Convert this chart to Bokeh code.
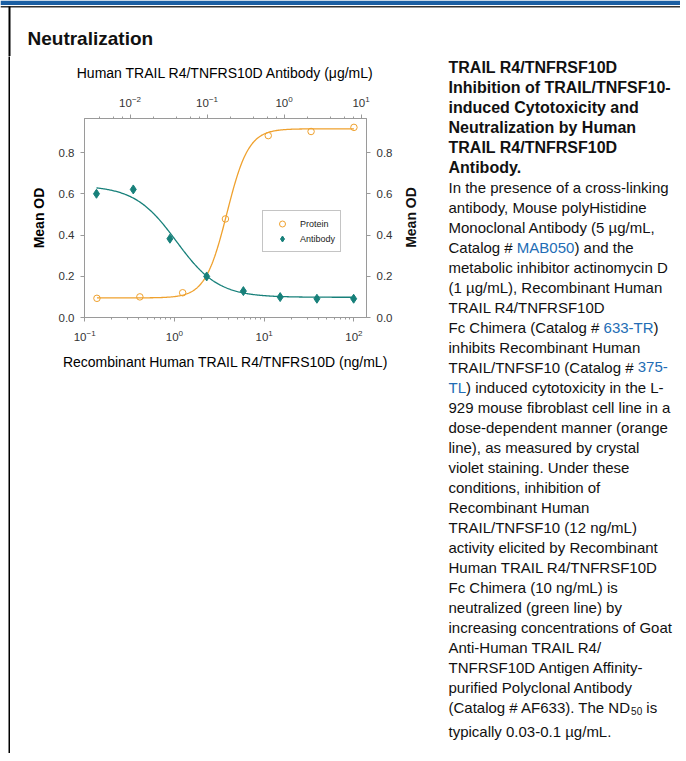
import math
import numpy as np
from bokeh.plotting import figure
from bokeh.models import (Range1d, LogScale, LogAxis, LinearAxis, FixedTicker,
                          PrintfTickFormatter, Legend, LegendItem, ColumnDataSource)
from bokeh.layouts import column, row
from bokeh.embed import file_html
from bokeh.resources import INLINE
from bokeh.core.properties import value

# ---------------- data ----------------
protein_conc = [0.137, 0.412, 1.235, 3.70, 11.1, 33.3, 100.0]                 # ng/mL (bottom axis)
protein_od = [0.093, 0.100, 0.120, 0.478, 0.882, 0.902, 0.922]
antibody_conc = [0.00366, 0.011, 0.0329, 0.0988, 0.296, 0.889, 2.667, 8.0]  # ug/mL (top axis)
antibody_od = [0.600, 0.621, 0.382, 0.199, 0.128, 0.099, 0.091, 0.091]

# four-parameter logistic fit curves (parameters)
protein_fit = {"bottom": 0.095, "top": 0.915, "mid": 3.84, "hill": 3.6}
antibody_fit = {"bottom": 0.098, "top": 0.64, "mid": 0.040, "hill": 1.6}

y_ticks = [0.0, 0.2, 0.4, 0.6, 0.8]
series_labels = ["Protein", "Antibody"]

section_title = "Neutralization"
top_axis_title = "Human TRAIL R4/TNFRS10D Antibody (\u03bcg/mL)"
bottom_axis_title = "Recombinant Human TRAIL R4/TNFRS10D (ng/mL)"
y_axis_title = "Mean OD"

caption_lines = [
    "TRAIL R4/TNFRSF10D",
    "Inhibition of TRAIL/TNFSF10-",
    "induced Cytotoxicity and",
    "Neutralization by Human",
    "TRAIL R4/TNFRSF10D",
    "Antibody.",
    "In the presence of a cross-linking",
    "antibody, Mouse polyHistidine",
    "Monoclonal Antibody (5 \u00b5g/mL,",
    "Catalog # MAB050) and the",
    "metabolic inhibitor actinomycin D",
    "(1 \u00b5g/mL), Recombinant Human",
    "TRAIL R4/TNFRSF10D",
    "Fc Chimera (Catalog # 633-TR)",
    "inhibits Recombinant Human",
    "TRAIL/TNFSF10 (Catalog # 375-",
    "TL) induced cytotoxicity in the L-",
    "929 mouse fibroblast cell line in a",
    "dose-dependent manner (orange",
    "line), as measured by crystal",
    "violet staining. Under these",
    "conditions, inhibition of",
    "Recombinant Human",
    "TRAIL/TNFSF10 (12 ng/mL)",
    "activity elicited by Recombinant",
    "Human TRAIL R4/TNFRSF10D",
    "Fc Chimera (10 ng/mL) is",
    "neutralized (green line) by",
    "increasing concentrations of Goat",
    "Anti-Human TRAIL R4/",
    "TNFRSF10D Antigen Affinity-",
    "purified Polyclonal Antibody",
    "(Catalog # AF633). The ND50 is",
    "typically 0.03-0.1 \u00b5g/mL.",
]
caption_bold_lines = 6
caption_links = {9: "MAB050", 13: "633-TR", 15: "375-", 16: "TL"}
caption_subscript = {32: "50"}

# ---------------- styling ----------------
FONT = "Liberation Sans"
ORANGE = "#EFA12E"
TEAL = "#17807A"
GRAY = "#9a9a9a"
BLUE_BAR = "#1b5fa3"
LINK = "#236db5"
INK = "#111111"

# Arial / Liberation Sans advance widths (1/1000 em) for offsetting coloured runs
ARIAL_W = {" ": 278, "#": 556, "(": 333, ")": 333, "-": 333, ".": 278, "/": 278, ",": 278,
           "A": 667, "B": 667, "C": 722, "D": 722, "E": 667, "F": 611, "G": 778, "H": 722,
           "I": 278, "K": 667, "L": 556, "M": 833, "N": 722, "O": 778, "P": 667, "R": 722,
           "S": 667, "T": 611, "a": 556, "b": 556, "c": 500, "d": 556, "e": 556, "f": 278,
           "g": 556, "h": 556, "i": 222, "k": 500, "l": 222, "m": 833, "n": 556, "o": 556,
           "p": 556, "r": 333, "s": 500, "t": 278, "u": 556, "v": 500, "y": 500}


def text_w(s, size):
    return sum(ARIAL_W.get(ch, 556) for ch in s) * size / 1000.0


def logistic_up(x, f):
    return f["bottom"] + (f["top"] - f["bottom"]) / (1.0 + (f["mid"] / x) ** f["hill"])


def logistic_down(x, f):
    return f["bottom"] + (f["top"] - f["bottom"]) / (1.0 + (x / f["mid"]) ** f["hill"])


def no_align(fig):
    if "frame_align" in fig.properties():
        fig.frame_align = False
    return fig


# ---------------- header ----------------
W = 680
HEAD_H = 56
BODY_H = 697

h = figure(width=W, height=HEAD_H, x_range=Range1d(0, W), y_range=Range1d(HEAD_H, 0),
           x_axis_type=None, y_axis_type=None, min_border=0, toolbar_location=None,
           output_backend="svg", outline_line_color=None)
no_align(h)
h.grid.visible = False
h.quad(left=[0], right=[W], top=[0], bottom=[4.5], fill_color=BLUE_BAR, line_color=None)
h.segment(x0=[0], y0=[6.3], x1=[W], y1=[6.3], line_color="#333333", line_width=1.5)
h.segment(x0=[9], y0=[6], x1=[9], y1=[HEAD_H], line_color="black", line_width=2)
h.text(x=[27], y=[38], text=[section_title], text_font=value(FONT), text_font_style="bold",
       text_font_size="19px", text_color=INK, text_baseline="middle")

# ---------------- left spacer + border strip ----------------
sp = no_align(figure(width=8, height=BODY_H, x_axis_type=None, y_axis_type=None, min_border=0,
                     toolbar_location=None, output_backend="svg", background_fill_color="white",
                     border_fill_color="white", outline_line_color=None))
sp.grid.visible = False
b = no_align(figure(width=2, height=BODY_H, x_axis_type=None, y_axis_type=None, min_border=0,
                    toolbar_location=None, output_backend="svg", background_fill_color="black",
                    border_fill_color="black", outline_line_color=None))
b.grid.visible = False

# ---------------- chart ----------------
p = figure(width=385, height=BODY_H, x_axis_type="log",
           x_range=Range1d(10 ** -1.002, 10 ** 2.14), y_range=Range1d(0, 0.965),
           min_border_left=74, min_border_right=29, min_border_top=62, min_border_bottom=436,
           toolbar_location=None, output_backend="svg")
no_align(p)
p.grid.visible = False
p.outline_line_color = GRAY
p.extra_x_ranges = {"ab": Range1d(10 ** -2.592, 10 ** 1.070)}
p.extra_x_scales = {"ab": LogScale()}


def style_axis(ax):
    ax.axis_line_color = GRAY
    ax.major_tick_line_color = GRAY
    ax.minor_tick_line_color = GRAY
    ax.major_tick_out = 4
    ax.major_tick_in = 0
    ax.minor_tick_out = 2
    ax.minor_tick_in = 0
    ax.major_label_text_font = FONT
    ax.major_label_text_font_size = "11.5px"
    ax.major_label_text_color = "#333333"
    ax.axis_label_text_font = FONT
    ax.axis_label_text_color = "#000000"
    ax.axis_label_text_font_style = "normal"


bottom = p.xaxis[0]
style_axis(bottom)
bottom.axis_label = bottom_axis_title
bottom.axis_label_text_font_size = "14px"
bottom.major_label_standoff = 8
bottom.axis_label_standoff = 10

top = LogAxis(x_range_name="ab")
style_axis(top)
top.axis_label = top_axis_title
top.axis_label_text_font_size = "14px"
top.major_label_standoff = 8
top.axis_label_standoff = 12
p.add_layout(top, "above")

left = p.yaxis[0]
style_axis(left)
left.ticker = FixedTicker(ticks=y_ticks)
left.formatter = PrintfTickFormatter(format="%.1f")
left.minor_tick_line_color = None
left.major_label_standoff = 6
left.axis_label = y_axis_title
left.axis_label_text_font_style = "bold"
left.axis_label_text_font_size = "14px"
left.axis_label_standoff = 9

right = LinearAxis(ticker=FixedTicker(ticks=y_ticks), formatter=PrintfTickFormatter(format="%.1f"))
style_axis(right)
right.minor_tick_line_color = None
right.major_label_standoff = 6
p.add_layout(right, "right")

xp = np.logspace(math.log10(protein_conc[0]), math.log10(protein_conc[-1]), 300)
xa = np.logspace(math.log10(antibody_conc[0]), math.log10(antibody_conc[-1]), 300)
p.line(xp, logistic_up(xp, protein_fit), line_color=ORANGE, line_width=1.3)
p.line(xa, logistic_down(xa, antibody_fit), line_color=TEAL, line_width=1.3, x_range_name="ab")
r_prot = p.scatter(protein_conc, protein_od, marker="circle", size=6.5, fill_color=None,
                   line_color=ORANGE, line_width=1)
r_ab = p.scatter(antibody_conc, antibody_od, marker="diamond", size=9,
                 fill_color=TEAL, line_color=TEAL, x_range_name="ab")

legend = Legend(items=[LegendItem(label=series_labels[0], renderers=[r_prot]),
                       LegendItem(label=series_labels[1], renderers=[r_ab])],
                location=(178, 65), margin=0, padding=5, spacing=0, label_standoff=4,
                glyph_width=28, glyph_height=15, label_height=15,
                label_text_font=FONT, label_text_font_size="9px", label_text_color="#222222",
                border_line_color="#8a8a8a", border_line_width=1, background_fill_color="white",
                background_fill_alpha=1.0)
p.add_layout(legend)

# ---------------- caption (and right-hand axis title) ----------------
CAP_W = W - 10 - 385
TX = 53
t = figure(width=CAP_W, height=BODY_H, x_range=Range1d(0, CAP_W), y_range=Range1d(0, BODY_H),
           x_axis_type=None, y_axis_type=None, min_border=0, toolbar_location=None,
           output_backend="svg", outline_line_color=None)
no_align(t)
t.grid.visible = False

# right y-axis title, reading bottom-to-top like the left one
t.text(x=[15], y=[BODY_H - 161], text=[y_axis_title], angle=math.pi / 2, text_font=value(FONT),
       text_font_style="bold", text_font_size="14px", text_color=INK,
       text_align="center", text_baseline="middle")

segs = {"x": [], "y": [], "text": [], "color": [], "size": [], "style": []}


def add_seg(x, ypix, s, color, size, style):
    # SVG drops leading blanks, so move the start past them instead
    stripped = s.lstrip(" ")
    x += text_w(s[:len(s) - len(stripped)], size)
    segs["x"].append(x)
    segs["y"].append(BODY_H - ypix)
    segs["text"].append(stripped)
    segs["color"].append(color)
    segs["size"].append("%gpx" % size)
    segs["style"].append(style)


for k, line in enumerate(caption_lines):
    y = 10.5 + 20 * k + (4 if k == len(caption_lines) - 1 else 0)
    if k < caption_bold_lines:
        add_seg(TX, y, line, INK, 16, "bold")
        continue
    size = 15
    if k in caption_links:
        word = caption_links[k]
        i = line.index(word)
        pre, post = line[:i], line[i + len(word):]
        x = TX
        if pre:
            add_seg(x, y, pre, INK, size, "normal")
            x += text_w(pre, size)
        add_seg(x, y, word, LINK, size, "normal")
        x += text_w(word, size)
        if post:
            add_seg(x, y, post, INK, size, "normal")
    elif k in caption_subscript:
        sub = caption_subscript[k]
        i = line.index("ND" + sub) + 2
        pre, post = line[:i], line[i + len(sub):]
        add_seg(TX, y, pre, INK, size, "normal")
        x = TX + text_w(pre, size)
        add_seg(x, y + 4, sub, INK, 10, "normal")
        x += text_w(sub, 10)
        add_seg(x, y, post, INK, size, "normal")
    else:
        add_seg(TX, y, line, INK, size, "normal")

t.text(x="x", y="y", text="text", source=ColumnDataSource(segs), text_color="color",
       text_font_size="size", text_font_style="style", text_font=value(FONT),
       text_baseline="middle", text_align="left")

layout = column(h, row(sp, b, p, t, spacing=0), spacing=0)
open("out.html", "w").write(file_html(layout, INLINE))
